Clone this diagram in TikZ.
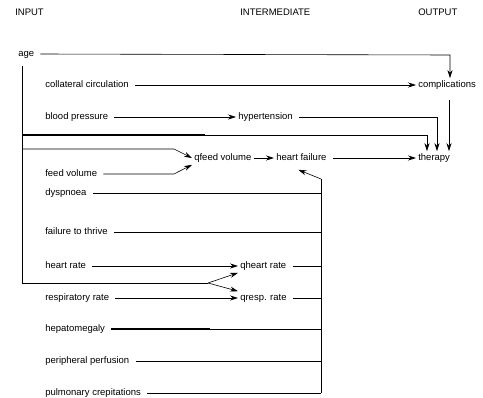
\documentclass[tikz,border=0pt]{standalone}
\usepackage{fontspec}
\setmainfont{Liberation Sans}
\usetikzlibrary{arrows.meta}
\tikzset{
  lbl/.style={anchor=west, inner sep=2pt, text height=7pt, text depth=2pt,
    font=\fontsize{9.5}{11}\selectfont},
  arr/.style={-{Stealth[length=8pt,width=5pt]}},
  wire/.style={shorten <=4pt},
}
\begin{document}
\begin{tikzpicture}[x=1pt,y=-1pt,line width=0.6pt]
  \useasboundingbox (0,0) rectangle (483,398);
  % headings
  \node[lbl] (hin)  at (13,13)  {INPUT};
  \node[lbl] (hmid) at (238,13) {INTERMEDIATE};
  \node[lbl] (hout) at (416,13) {OUTPUT};
  % inputs
  \node[lbl] (age)  at (16,54)  {age};
  \node[lbl] (coll) at (43,85)  {collateral circulation};
  \node[lbl] (bp)   at (43,117) {blood pressure};
  \node[lbl] (fv)   at (43,174) {feed volume};
  \node[lbl] (dys)  at (43,193) {dyspnoea};
  \node[lbl] (ftt)  at (43,232) {failure to thrive};
  \node[lbl] (hr)   at (43,266) {heart rate};
  \node[lbl] (rr)   at (43,298) {respiratory rate};
  \node[lbl] (hep)  at (43,329) {hepatomegaly};
  \node[lbl] (pp)   at (43,361) {peripheral perfusion};
  \node[lbl] (pc)   at (43,393) {pulmonary crepitations};
  % intermediate
  \node[lbl] (hyp)  at (236,117) {hypertension};
  \node[lbl] (qfv)  at (192,158) {qfeed volume};
  \node[lbl] (hf)   at (274,158) {heart failure};
  \node[lbl] (qhr)  at (238,266) {qheart rate};
  \node[lbl] (qrr)  at (238,298) {qresp. rate};
  % outputs
  \node[lbl] (comp) at (416,85)  {complications};
  \node[lbl] (ther) at (416,158) {therapy};
  % bends
  \coordinate (av)  at (22,66);
  \coordinate (cx)  at (450,55);
  \coordinate (t1)  at (427,135);
  \coordinate (tk1) at (205,135);
  \coordinate (t2)  at (437,117);
  \coordinate (t3)  at (449,100);
  \coordinate (fb)  at (174,149);
  \coordinate (hrj) at (208,283);
  \coordinate (ctop) at (321,179);
  \coordinate (tk2) at (210,329);

  \draw[arr,wire] (age.east) -- (cx) -- (cx |- comp.north);
  \draw[arr,wire] (coll.east) -- (comp.west);
  \draw[arr,wire] (bp.east) -- (hyp.west);
  \draw[arr,wire] (hyp.east) -- (t2) -- (t2 |- ther.north);
  \draw[arr] (t3) -- (t3 |- ther.north);
  % age down the left side
  \draw (av) -- (av |- hrj) -- (hrj);
  \draw[arr] (av |- t1) -- (t1) -- (t1 |- ther.north);
  \draw[line width=1.3pt] (av |- tk1) -- (tk1);
  \draw[arr] (av |- fb) -- (fb) -- (qfv.west);
  \draw[arr,wire] (fv.east) -- (fv.east -| fb) -- (qfv.south west);
  \draw[arr] (hrj) -- (qhr.south west);
  \draw[arr] (hrj) -- (qrr.north west);
  % intermediate chain
  \draw[arr] (qfv.east) -- (hf.west);
  \draw[arr,wire] (hf.east) -- (ther.west);
  \draw[arr,wire] (hr.east) -- (qhr.west);
  \draw[arr,wire] (rr.east) -- (qrr.west);
  % signs into heart failure
  \draw (ctop) -- (ctop |- pc.east);
  \draw[arr] (ctop) -- ([xshift=-3pt,yshift=-5pt]hf.south);
  \draw[wire] (dys.east) -- (dys.east -| ctop);
  \draw[wire] (ftt.east) -- (ftt.east -| ctop);
  \draw[wire] (qhr.east) -- (qhr.east -| ctop);
  \draw[wire] (qrr.east) -- (qrr.east -| ctop);
  \draw[wire] (hep.east) -- (hep.east -| ctop);
  \draw[line width=1.3pt,wire] (hep.east) -- (tk2);
  \draw[wire] (pp.east) -- (pp.east -| ctop);
  \draw[wire] (pc.east) -- (pc.east -| ctop);
\end{tikzpicture}
\end{document}
